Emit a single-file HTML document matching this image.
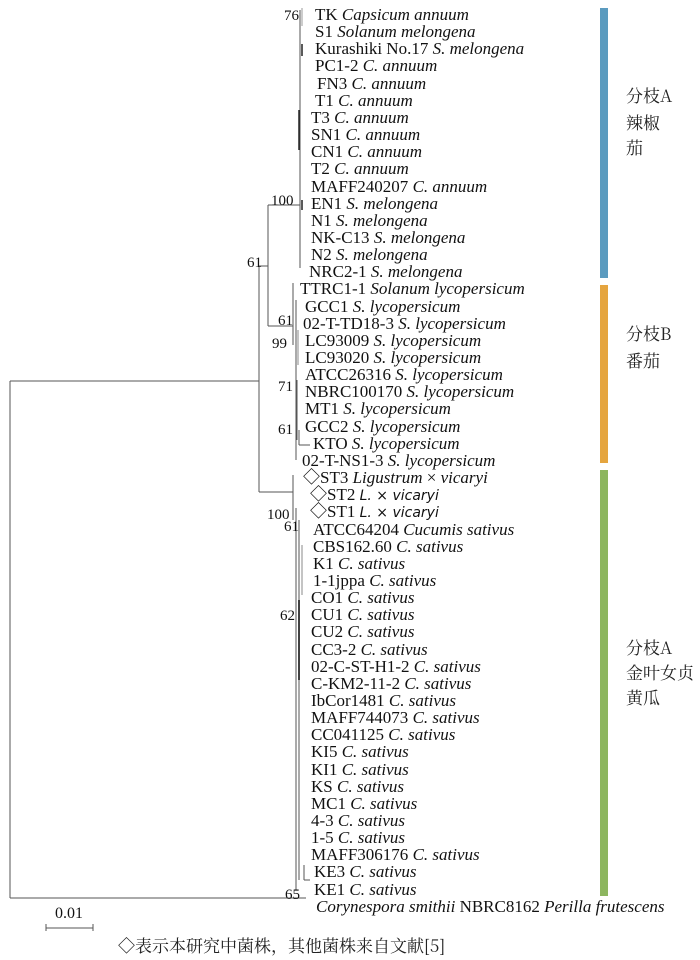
<!DOCTYPE html>
<html><head><meta charset="utf-8"><style>
body{margin:0;background:#fff}
svg{display:block}
text{font-family:"Liberation Serif","Noto Serif CJK SC",serif;font-size:17px;fill:#111}
.i{font-style:italic}
.s{font-family:"DejaVu Sans",sans-serif;font-style:italic;font-size:14px}
.b{font-size:15px}
.c{font-family:"Noto Serif CJK SC","Noto Sans CJK SC",serif;font-size:17px;fill:#222}
</style></head><body>
<svg width="700" height="960" xmlns="http://www.w3.org/2000/svg">
<g stroke="#555" stroke-width="1" fill="none">
<line x1="10" y1="381" x2="10" y2="898"/>
<line x1="10" y1="381" x2="259" y2="381"/>
<line x1="10" y1="898" x2="306" y2="898"/>
<line x1="259" y1="266" x2="259" y2="492"/>
<line x1="259" y1="266" x2="268" y2="266"/>
<line x1="268" y1="205" x2="268" y2="326"/>
<line x1="268" y1="205" x2="300" y2="205"/>
<line x1="268" y1="326" x2="293" y2="326"/>
<line x1="300" y1="10" x2="300" y2="268"/>
<line x1="302" y1="8" x2="302" y2="26" stroke="#999"/>
<line x1="302" y1="44" x2="302" y2="56" stroke="#222" stroke-width="1.5"/>
<line x1="299" y1="110" x2="299" y2="150" stroke="#222" stroke-width="1.5"/>
<line x1="302" y1="200" x2="302" y2="210" stroke="#222" stroke-width="1.5"/>
<line x1="293" y1="283" x2="293" y2="345"/>
<line x1="296" y1="300" x2="296" y2="460"/>
<line x1="298" y1="330" x2="298" y2="365" stroke="#888"/>
<line x1="297" y1="380" x2="297" y2="440"/>
<line x1="299" y1="430" x2="299" y2="445"/>
<line x1="299" y1="445" x2="310" y2="445"/>
<line x1="259" y1="492" x2="293" y2="492"/>
<line x1="293" y1="475" x2="293" y2="520"/>
<line x1="296" y1="508" x2="296" y2="890"/>
<line x1="299" y1="520" x2="299" y2="880"/>
<line x1="302" y1="545" x2="302" y2="595" stroke="#888"/>
<line x1="299" y1="600" x2="299" y2="680" stroke="#111" stroke-width="1.6"/>
<line x1="304" y1="865" x2="304" y2="880"/>
<line x1="304" y1="880" x2="310" y2="880"/>
<line x1="46" y1="928" x2="93" y2="928"/>
<line x1="46" y1="924" x2="46" y2="931"/>
<line x1="93" y1="924" x2="93" y2="931"/>
</g>
<g>
<text x="284" y="20" class="b">76</text>
<text x="271" y="205" class="b">100</text>
<text x="247" y="267" class="b">61</text>
<text x="278" y="325" class="b">61</text>
<text x="272" y="348" class="b">99</text>
<text x="278" y="391" class="b">71</text>
<text x="278" y="434" class="b">61</text>
<text x="267" y="519" class="b">100</text>
<text x="284" y="531" class="b">61</text>
<text x="280" y="620" class="b">62</text>
<text x="285" y="899" class="b">65</text>
</g>
<g>
<text x="315" y="20">TK <tspan class="i">Capsicum annuum</tspan></text>
<text x="315" y="37">S1 <tspan class="i">Solanum melongena</tspan></text>
<text x="315" y="54">Kurashiki No.17 <tspan class="i">S. melongena</tspan></text>
<text x="315" y="71">PC1-2 <tspan class="i">C. annuum</tspan></text>
<text x="317" y="89">FN3 <tspan class="i">C. annuum</tspan></text>
<text x="315" y="106">T1 <tspan class="i">C. annuum</tspan></text>
<text x="311" y="123">T3 <tspan class="i">C. annuum</tspan></text>
<text x="311" y="140">SN1 <tspan class="i">C. annuum</tspan></text>
<text x="311" y="157">CN1 <tspan class="i">C. annuum</tspan></text>
<text x="311" y="174">T2 <tspan class="i">C. annuum</tspan></text>
<text x="311" y="192">MAFF240207 <tspan class="i">C. annuum</tspan></text>
<text x="311" y="209">EN1 <tspan class="i">S. melongena</tspan></text>
<text x="311" y="226">N1 <tspan class="i">S. melongena</tspan></text>
<text x="311" y="243">NK-C13 <tspan class="i">S. melongena</tspan></text>
<text x="311" y="260">N2 <tspan class="i">S. melongena</tspan></text>
<text x="309" y="277">NRC2-1 <tspan class="i">S. melongena</tspan></text>
<text x="300" y="294">TTRC1-1 <tspan class="i">Solanum lycopersicum</tspan></text>
<text x="305" y="312">GCC1 <tspan class="i">S. lycopersicum</tspan></text>
<text x="303" y="329">02-T-TD18-3 <tspan class="i">S. lycopersicum</tspan></text>
<text x="305" y="346">LC93009 <tspan class="i">S. lycopersicum</tspan></text>
<text x="305" y="363">LC93020 <tspan class="i">S. lycopersicum</tspan></text>
<text x="305" y="380">ATCC26316 <tspan class="i">S. lycopersicum</tspan></text>
<text x="305" y="397">NBRC100170 <tspan class="i">S. lycopersicum</tspan></text>
<text x="305" y="414">MT1 <tspan class="i">S. lycopersicum</tspan></text>
<text x="305" y="432">GCC2 <tspan class="i">S. lycopersicum</tspan></text>
<text x="313" y="449">KTO <tspan class="i">S. lycopersicum</tspan></text>
<text x="302" y="466">02-T-NS1-3 <tspan class="i">S. lycopersicum</tspan></text>
<text x="303" y="483">◇ST3 <tspan class="i">Ligustrum</tspan> × <tspan class="i">vicaryi</tspan></text>
<text x="310" y="500">◇ST2 <tspan class="s">L. × vicaryi</tspan></text>
<text x="310" y="517">◇ST1 <tspan class="s">L. × vicaryi</tspan></text>
<text x="313" y="535">ATCC64204 <tspan class="i">Cucumis sativus</tspan></text>
<text x="313" y="552">CBS162.60 <tspan class="i">C. sativus</tspan></text>
<text x="313" y="569">K1 <tspan class="i">C. sativus</tspan></text>
<text x="313" y="586">1-1jppa <tspan class="i">C. sativus</tspan></text>
<text x="311" y="603">CO1 <tspan class="i">C. sativus</tspan></text>
<text x="311" y="620">CU1 <tspan class="i">C. sativus</tspan></text>
<text x="311" y="637">CU2 <tspan class="i">C. sativus</tspan></text>
<text x="311" y="655">CC3-2 <tspan class="i">C. sativus</tspan></text>
<text x="311" y="672">02-C-ST-H1-2 <tspan class="i">C. sativus</tspan></text>
<text x="311" y="689">C-KM2-11-2 <tspan class="i">C. sativus</tspan></text>
<text x="311" y="706">IbCor1481 <tspan class="i">C. sativus</tspan></text>
<text x="311" y="723">MAFF744073 <tspan class="i">C. sativus</tspan></text>
<text x="311" y="740">CC041125 <tspan class="i">C. sativus</tspan></text>
<text x="311" y="757">KI5 <tspan class="i">C. sativus</tspan></text>
<text x="311" y="775">KI1 <tspan class="i">C. sativus</tspan></text>
<text x="311" y="792">KS <tspan class="i">C. sativus</tspan></text>
<text x="311" y="809">MC1 <tspan class="i">C. sativus</tspan></text>
<text x="311" y="826">4-3 <tspan class="i">C. sativus</tspan></text>
<text x="311" y="843">1-5 <tspan class="i">C. sativus</tspan></text>
<text x="311" y="860">MAFF306176 <tspan class="i">C. sativus</tspan></text>
<text x="314" y="877">KE3 <tspan class="i">C. sativus</tspan></text>
<text x="314" y="895">KE1 <tspan class="i">C. sativus</tspan></text>
<text x="316" y="912"><tspan class="i">Corynespora smithii</tspan> NBRC8162 <tspan class="i">Perilla frutescens</tspan></text>
</g>
<rect x="600" y="8" width="8" height="270" fill="#5b9bbf"/>
<rect x="600" y="285" width="8" height="178" fill="#e5a53f"/>
<rect x="600" y="470" width="8" height="426" fill="#8db65f"/>
<text class="c" x="626" y="102">分枝A</text>
<text class="c" x="626" y="129">辣椒</text>
<text class="c" x="626" y="154">茄</text>
<text class="c" x="626" y="340">分枝B</text>
<text class="c" x="626" y="367">番茄</text>
<text class="c" x="626" y="654">分枝A</text>
<text class="c" x="626" y="679">金叶女贞</text>
<text class="c" x="626" y="704">黄瓜</text>
<text x="55" y="918" style="font-size:16px">0.01</text>
<text class="c" x="118" y="952">◇表示本研究中菌株，其他菌株来自文献[5]</text>
</svg>
</body></html>
